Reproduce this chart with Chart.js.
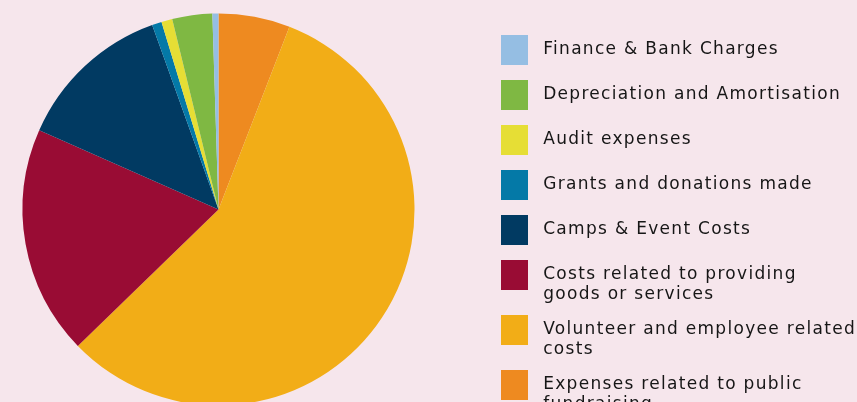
<!DOCTYPE html>
<html>
<head>
<meta charset="utf-8">
<script src="https://cdn.jsdelivr.net/npm/chart.js@4"></script>
<style>
  html, body { margin: 0; padding: 0; background: #f6e6ec; overflow: hidden; width: 857px; height: 402px; }
  /* canvas is a bit bigger than the window and shifted so the pie sits where it should */
  #wrap { position: absolute; left: -49px; top: -20px; width: 1000px; height: 460px; }
</style>
</head>
<body>
<div id="wrap"><canvas id="chart"></canvas></div>
<script>
// Slices in clockwise order from 12 o'clock (legend shows them reversed)
const categories = [
    'Expenses related to public fundraising',
    'Volunteer and employee related costs',
    'Costs related to providing goods or services',
    'Camps & Event Costs',
    'Grants and donations made',
    'Audit expenses',
    'Depreciation and Amortisation',
    'Finance & Bank Charges'
];
const shares = [5.9, 56.9, 18.9, 12.9, 0.8, 0.9, 3.3, 0.5];
const colors = ['#ee8a20', '#f2ad17', '#990c34', '#013a62', '#0479a7', '#e6de35', '#7fb843', '#95bee3'];

const FONT_SIZE = 17;
const SPACING = '1.3px';
const BOX_W = 27;
const PAD = 15;

// Break long legend labels onto two lines
function wrap(label, maxChars) {
    const lines = [];
    let line = '';
    label.split(' ').forEach(word => {
        const next = line ? line + ' ' + word : word;
        if (next.length > maxChars && line) {
            lines.push(line);
            line = word;
        } else {
            line = next;
        }
    });
    lines.push(line);
    return lines.length > 1 ? lines.map(l => ' ' + l) : ' ' + lines[0];
}

const legendTexts = categories.map(c => wrap(c, 30));

// Measure the legend width up front so the legend's left edge lands at x=535 on the canvas
const probe = document.createElement('canvas').getContext('2d');
probe.font = FONT_SIZE + 'px "DejaVu Sans"';
probe.letterSpacing = SPACING;
let widest = 0;
legendTexts.forEach(t => {
    const s = typeof t === 'string' ? t : t.reduce((a, b) => a.length > b.length ? a : b);
    widest = Math.max(widest, probe.measureText(s).width);
});
const legendWidth = PAD + BOX_W + FONT_SIZE / 2 + widest + 10;
const rightPad = 1000 - 535 - legendWidth;

// Canvas state gets reset on resize, so set the spacing again before layout and draw
const letterSpacing = {
    id: 'letterSpacing',
    beforeUpdate(chart) { chart.ctx.letterSpacing = SPACING; },
    beforeDraw(chart) { chart.ctx.letterSpacing = SPACING; }
};

const ctx = document.getElementById('chart').getContext('2d');
new Chart(ctx, {
    type: 'pie',
    data: {
        labels: categories,
        datasets: [{
            data: shares,
            backgroundColor: colors,
            borderWidth: 0
        }]
    },
    options: {
        responsive: true,
        maintainAspectRatio: false,
        animation: false,
        radius: 196,
        layout: {
            padding: { left: 0, top: 0, right: rightPad, bottom: 1 }
        },
        plugins: {
            tooltip: { enabled: false },
            legend: {
                position: 'right',
                align: 'start',
                reverse: true,
                title: { display: true, text: '', padding: 0, font: { lineHeight: '40px' } },
                labels: {
                    boxWidth: BOX_W,
                    boxHeight: 30,
                    padding: PAD,
                    color: '#161616',
                    font: { family: 'DejaVu Sans', size: FONT_SIZE, lineHeight: '20px' },
                    generateLabels: chart => chart.data.labels.map((label, i) => ({
                        text: legendTexts[i],
                        fillStyle: colors[i],
                        strokeStyle: colors[i],
                        fontColor: '#161616',
                        lineWidth: 0,
                        hidden: false,
                        index: i
                    }))
                }
            }
        }
    },
    plugins: [letterSpacing]
});
</script>
</body>
</html>
